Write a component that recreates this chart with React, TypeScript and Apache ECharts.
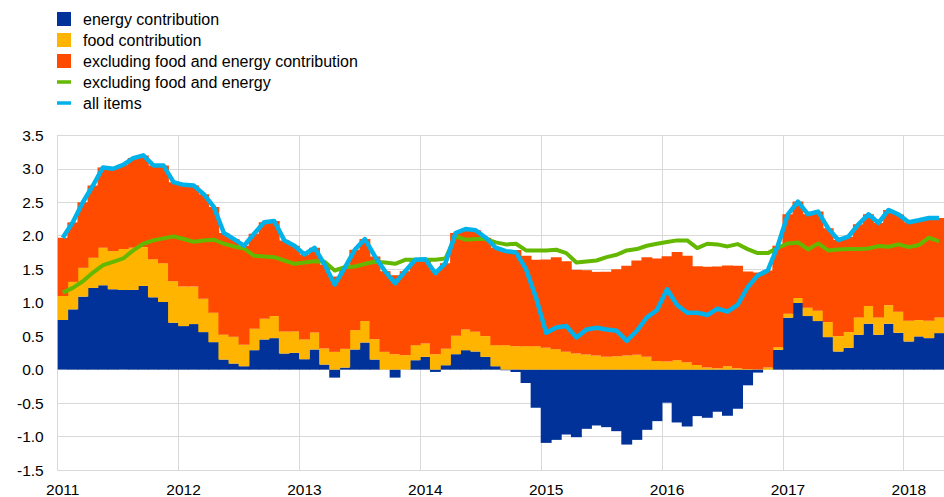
import React, { useEffect, useRef } from "react";
import * as echarts from "echarts";

const years = ["2011", "2012", "2013", "2014", "2015", "2016", "2017", "2018"];
const monthCount = 88; // Jan 2011 – Apr 2018
const categories: string[] = [];
years.forEach((y) => {
  for (let m = 1; m <= 12; m++) categories.push(`${y}-${m < 10 ? "0" + m : m}`);
});
const months = categories.slice(0, monthCount);

const yTicks = ["-1.5", "-1.0", "-0.5", "0.0", "0.5", "1.0", "1.5", "2.0", "2.5", "3.0", "3.5"];

const energy = [
  0.74, 0.9, 1.09, 1.22, 1.26, 1.2, 1.19, 1.19, 1.25, 1.08, 1.01, 0.7,
  0.65, 0.68, 0.56, 0.41, 0.15, 0.09, 0.05, 0.29, 0.45, 0.47, 0.24, 0.25,
  0.155, 0.3, 0.075, -0.12, 0.03, 0.3, 0.405, 0.15, 0.0, -0.12, 0.0, 0.14,
  0.19, -0.035, 0.065, 0.23, 0.29, 0.27, 0.19, 0.05, -0.01, -0.035, -0.2, -0.57,
  -1.095, -1.05, -0.97, -1.01, -0.885, -0.835, -0.86, -0.92, -1.12, -1.05, -0.9, -0.77,
  -0.495, -0.79, -0.85, -0.695, -0.72, -0.63, -0.69, -0.585, -0.235, -0.045, 0.0, 0.295,
  0.775, 0.995, 0.8, 0.725, 0.485, 0.27, 0.325, 0.52, 0.685, 0.52, 0.685, 0.55,
  0.42, 0.495, 0.47, 0.545,
];

const food = [
  0.36, 0.41, 0.43, 0.45, 0.56, 0.57, 0.61, 0.63, 0.58, 0.57, 0.58, 0.62,
  0.59, 0.56, 0.5, 0.44, 0.37, 0.4, 0.32, 0.32, 0.31, 0.33, 0.33, 0.32,
  0.295, 0.255, 0.24, 0.265, 0.28, 0.29, 0.32, 0.305, 0.265, 0.23, 0.215, 0.225,
  0.2, 0.23, 0.245, 0.275, 0.31, 0.295, 0.31, 0.315, 0.365, 0.35, 0.35, 0.35,
  0.325, 0.305, 0.265, 0.24, 0.225, 0.21, 0.19, 0.2, 0.21, 0.22, 0.19, 0.13,
  0.12, 0.14, 0.11, 0.07, 0.03, 0.02, 0.05, 0.02, 0.01, 0.005, 0.03, 0.04,
  0.06, 0.075, 0.125, 0.155, 0.225, 0.23, 0.235, 0.26, 0.265, 0.26, 0.275, 0.315,
  0.31, 0.245, 0.26, 0.235,
];

const exFoodEnergyContribution = [
  0.87, 0.89, 0.98, 1.08, 1.2, 1.23, 1.26, 1.34, 1.37, 1.4, 1.46, 1.48,
  1.52, 1.51, 1.56, 1.58, 1.52, 1.46, 1.48, 1.42, 1.44, 1.42, 1.36, 1.28,
  1.27, 1.265, 1.255, 1.125, 1.21, 1.2, 1.225, 1.235, 1.205, 1.18, 1.255, 1.275,
  1.26, 1.245, 1.28, 1.535, 1.5, 1.515, 1.47, 1.455, 1.415, 1.435, 1.35, 1.29,
  1.32, 1.375, 1.355, 1.25, 1.26, 1.25, 1.27, 1.3, 1.34, 1.41, 1.49, 1.53,
  1.575, 1.615, 1.59, 1.475, 1.505, 1.52, 1.505, 1.53, 1.455, 1.445, 1.45, 1.515,
  1.485, 1.44, 1.395, 1.48, 1.4, 1.435, 1.425, 1.39, 1.37, 1.41, 1.425, 1.45,
  1.47, 1.49, 1.535, 1.485,
];

const exFoodEnergy = [
  1.15, 1.22, 1.32, 1.45, 1.56, 1.61, 1.66, 1.78, 1.88, 1.93, 1.96, 1.99,
  1.95, 1.91, 1.93, 1.94, 1.88, 1.84, 1.81, 1.7, 1.69, 1.68, 1.63, 1.58,
  1.6, 1.62, 1.61, 1.48, 1.53, 1.54, 1.58, 1.61, 1.6, 1.58, 1.64, 1.64,
  1.64, 1.64, 1.66, 1.99, 1.94, 1.95, 1.95, 1.9, 1.87, 1.88, 1.78, 1.78,
  1.78, 1.79, 1.74, 1.6, 1.615, 1.63, 1.68, 1.715, 1.78, 1.8, 1.85, 1.88,
  1.905, 1.93, 1.93, 1.815, 1.88, 1.87, 1.84, 1.875, 1.8, 1.74, 1.74, 1.82,
  1.885, 1.9, 1.795, 1.885, 1.78, 1.795, 1.8, 1.8, 1.81, 1.845, 1.835, 1.87,
  1.83, 1.86, 1.97, 1.915,
];

const allItems = [
  1.97, 2.2, 2.5, 2.75, 3.02, 3.0, 3.06, 3.16, 3.2, 3.05, 3.05, 2.8,
  2.76, 2.75, 2.62, 2.43, 2.04, 1.95, 1.85, 2.03, 2.2, 2.22, 1.93, 1.85,
  1.72, 1.82, 1.57, 1.27, 1.52, 1.79, 1.95, 1.69, 1.47, 1.29, 1.47, 1.64,
  1.65, 1.44, 1.59, 2.04, 2.1, 2.08, 1.97, 1.82, 1.77, 1.75, 1.5, 1.07,
  0.55, 0.63, 0.65, 0.48, 0.6, 0.625, 0.6, 0.58, 0.43, 0.58, 0.78, 0.89,
  1.2, 0.965, 0.85, 0.85, 0.815, 0.91, 0.865, 0.965, 1.23, 1.405, 1.48, 1.85,
  2.32, 2.51, 2.32, 2.36, 2.11, 1.935, 1.985, 2.17, 2.32, 2.19, 2.385, 2.315,
  2.2, 2.23, 2.265, 2.265,
];

const names = [
  "energy contribution",
  "food contribution",
  "excluding food and energy contribution",
  "excluding food and energy",
  "all items",
];

const FONT = "'Liberation Sans', Arial, sans-serif";
const GRID = "#d9d9d9";

export default function App() {
  const ref = useRef<HTMLDivElement>(null);
  useEffect(() => {
    if (!ref.current) return;
    const chart = echarts.init(ref.current, null, { renderer: "svg" });
    const yearTick = (index: number) => index % 12 === 0;
    chart.setOption({
      animation: false,
      backgroundColor: "#ffffff",
      textStyle: { fontFamily: FONT },
      legend: {
        orient: "vertical",
        left: 57,
        top: 11,
        padding: 0,
        itemWidth: 14,
        itemHeight: 14,
        itemGap: 5,
        selectedMode: false,
        textStyle: { fontSize: 16, color: "#000", fontFamily: FONT, lineHeight: 14, padding: [0, 0, 0, 7] },
        data: [
          { name: names[0], icon: "rect" },
          { name: names[1], icon: "rect" },
          { name: names[2], icon: "rect" },
          { name: names[3], icon: "path://M0 0H40V10H0Z" },
          { name: names[4], icon: "path://M0 0H40V10H0Z" },
        ],
      },
      grid: { left: 57.7, right: -7.3, top: 135.3, bottom: 27 },
      xAxis: {
        type: "category",
        data: months,
        boundaryGap: true,
        axisLine: { show: true, onZero: false, lineStyle: { color: GRID } },
        axisTick: { show: false },
        splitLine: { show: true, interval: yearTick, lineStyle: { color: GRID, width: 1 } },
        axisLabel: {
          interval: yearTick,
          formatter: (v: string) => v.slice(0, 4),
          fontSize: 15.5,
          color: "#000",
          fontFamily: FONT,
          margin: 11,
        },
      },
      yAxis: {
        type: "value",
        min: -1.5,
        max: 3.5,
        interval: 0.5,
        axisLine: { show: true, lineStyle: { color: GRID } },
        axisTick: { show: false },
        splitLine: { show: true, lineStyle: { color: GRID, width: 1 } },
        axisLabel: {
          formatter: (v: number) => yTicks[Math.round((v + 1.5) / 0.5)] ?? v.toFixed(1),
          fontSize: 15.5,
          color: "#000",
          fontFamily: FONT,
          margin: 14,
        },
      },
      series: [
        {
          name: names[0],
          type: "bar",
          stack: "c",
          data: energy,
          barWidth: 10.9,
          itemStyle: { color: "#003299" },
        },
        {
          name: names[1],
          type: "bar",
          stack: "c",
          data: food,
          barWidth: 10.9,
          itemStyle: { color: "#FFB400" },
        },
        {
          name: names[2],
          type: "bar",
          stack: "c",
          data: exFoodEnergyContribution,
          barWidth: 10.9,
          itemStyle: { color: "#FF4B00" },
        },
        {
          name: names[3],
          type: "line",
          data: exFoodEnergy,
          symbol: "none",
          z: 3,
          itemStyle: { color: "#65B800" },
          lineStyle: { color: "#65B800", width: 4, join: "round" },
        },
        {
          name: names[4],
          type: "line",
          data: allItems,
          symbol: "none",
          z: 4,
          itemStyle: { color: "#00B1EA" },
          lineStyle: { color: "#00B1EA", width: 4.5, join: "round" },
        },
      ],
    });
    return () => chart.dispose();
  }, []);
  return (
    <div
      ref={ref}
      style={{ position: "absolute", left: 0, top: 0, width: 944, height: 497 }}
    />
  );
}
